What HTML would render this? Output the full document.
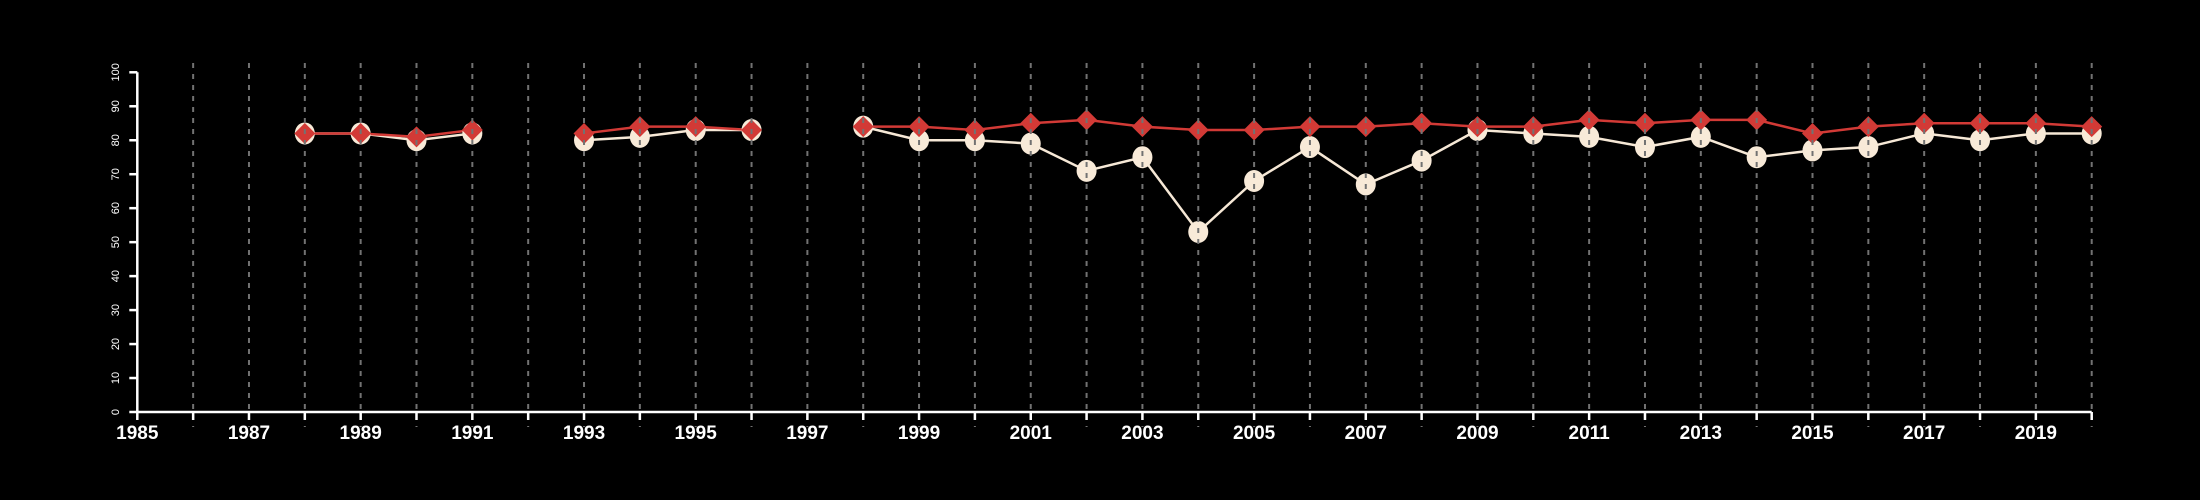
<!DOCTYPE html>
<html><head><meta charset="utf-8"><style>
html,body{margin:0;padding:0;background:#000;}
svg{display:block;font-family:"Liberation Sans",sans-serif;}
</style></head><body>
<svg id="chart" width="2200" height="500" viewBox="0 0 2200 500">
<rect width="2200" height="500" fill="#000"/>
<g id="lines"></g><g id="marks"></g><g id="grid"></g><g id="axes"></g>
</svg>
<script>
const years = [1988,1989,1990,1991,1992,1993,1994,1995,1996,1997,1998,1999,2000,2001,2002,2003,2004,2005,2006,2007,2008,2009,2010,2011,2012,2013,2014,2015,2016,2017,2018,2019,2020];
const redValues = [82,82,81,83,null,82,84,84,83,null,84,84,83,85,86,84,83,83,84,84,85,84,84,86,85,86,86,82,84,85,85,85,84];
const creamValues = [82,82,80,82,null,80,81,83,83,null,84,80,80,79,71,75,53,68,78,67,74,83,82,81,78,81,75,77,78,82,80,82,82];
const yTicks = [0,10,20,30,40,50,60,70,80,90,100];
const xTickLabels = [1985,1987,1989,1991,1993,1995,1997,1999,2001,2003,2005,2007,2009,2011,2013,2015,2017,2019];

const NS='http://www.w3.org/2000/svg';
const X0=137.3, XS=(2091.7-137.3)/35, Y0=412, YS=(412-72.3)/100;
const xs=y=>X0+(y-1985)*XS, ys=v=>Y0-v*YS;
function mk(tag,attrs,parent){const e=document.createElementNS(NS,tag);for(const k in attrs)e.setAttribute(k,attrs[k]);parent.appendChild(e);return e;}
const gL=document.getElementById('lines'),gM=document.getElementById('marks'),gG=document.getElementById('grid'),gA=document.getElementById('axes');

function segs(vals,color,name){
  let pts=[];const out=[];
  vals.forEach((v,i)=>{if(v==null){if(pts.length)out.push(pts);pts=[];}else pts.push([xs(years[i]),ys(v)]);});
  if(pts.length)out.push(pts);
  out.forEach(p=>{const e=mk('polyline',{points:p.map(q=>q.join(',')).join(' '),fill:'none',stroke:color,'stroke-width':2.5},gL);
    
    });
}
segs(creamValues,'#f6e8d6','cream-series-line');
segs(redValues,'#d23a36','red-series-line');
creamValues.forEach((v,i)=>{if(v==null)return;
  const c=mk('ellipse',{cx:xs(years[i]),cy:ys(v),rx:10,ry:11,fill:'#f8ead8'},gM);
  
  });
redValues.forEach((v,i)=>{if(v==null)return;
  const x=xs(years[i]),y=ys(v),r=10.5;
  const d=mk('polygon',{points:`${x},${y-r} ${x+r},${y} ${x},${y+r} ${x-r},${y}`,fill:'#d23a36'},gM);
  
  });
for(let yr=1986;yr<=2020;yr++){
  const l=mk('line',{x1:xs(yr),x2:xs(yr),y1:63,y2:427,stroke:'#727272','stroke-width':2,'stroke-dasharray':'5,6'},gG);
  
  
}
const xa=mk('line',{x1:X0,x2:xs(2020),y1:Y0,y2:Y0,stroke:'#fff','stroke-width':2.5},gA);


const ya=mk('line',{x1:X0,x2:X0,y1:ys(100),y2:Y0,stroke:'#fff','stroke-width':2.5},gA);


for(let yr=1985;yr<=2020;yr++){
  const t=mk('line',{x1:xs(yr),x2:xs(yr),y1:Y0,y2:Y0+8,stroke:'#fff','stroke-width':2.5},gA);
  
  
}
xTickLabels.forEach(yr=>{
  const t=mk('text',{x:xs(yr),y:439,fill:'#fff','font-size':19,'font-weight':'bold','text-anchor':'middle'},gA);
  t.textContent=yr;
  
  
});
yTicks.forEach(v=>{
  const t=mk('line',{x1:X0-8,x2:X0,y1:ys(v),y2:ys(v),stroke:'#fff','stroke-width':2.5},gA);
  
  
  const tx=mk('text',{x:0,y:0,fill:'#fff','font-size':11,'text-anchor':'middle',transform:`translate(119,${ys(v)}) rotate(-90)`},gA);
  tx.textContent=v;
  
  
});
</script>
</body></html>
